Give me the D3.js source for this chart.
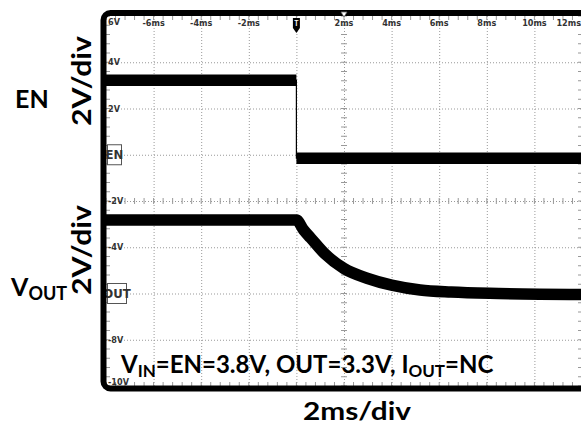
<!DOCTYPE html>
<html>
<head>
<meta charset="utf-8">
<script src="https://cdn.jsdelivr.net/npm/d3@7"></script>
<style>
body { margin: 0; background: #fff; }
text { font-family: Lato, "Noto Sans", sans-serif; fill: #000; }
.big { font-weight: bold; }
.tl { font-family: "Liberation Sans Narrow", "DejaVu Sans Condensed", sans-serif; font-size: 9px; font-weight: bold; fill: #333; }
</style>
</head>
<body>
<script>
// scope grid: time in ms, volts as printed on the screen
var xTicks = [-6, -4, -2, 2, 4, 6, 8, 10, 12];
var xTickLabels = ["-6ms", "-4ms", "-2ms", "2ms", "4ms", "6ms", "8ms", "10ms", "12ms"];
var yTicks = [6, 4, 2, -2, -4, -8, -10];
var yTickLabels = ["6V", "4V", "2V", "-2V", "-4V", "-8V", "-10V"];
var gridTimes = [-6, -4, -2, 0, 2, 4, 6, 8, 10];
var gridVolts = [4, 2, 0, -2, -4, -6, -8];

// channel traces
var enTime = [-8, 0, 0, 12];
var enVolt = [3.22, 3.22, -0.15, -0.15];
var outTime = [-8, 0, 0.3, 0.6, 1.2, 2.0, 3.0, 4.0, 5.2, 6.5, 8.5, 12];
var outVolt = [-2.82, -2.82, -3.25, -3.6, -4.29, -4.92, -5.35, -5.64, -5.85, -5.94, -6.0, -6.04];

var W = 581, H = 426;

var x = d3.scaleLinear().domain([-8, 12]).range([106, 582]);
var y = d3.scaleLinear().domain([6, -10]).range([16, 386]);

var svg = d3.select("body").append("svg")
    .attr("width", W)
    .attr("height", H);

svg.append("rect").attr("width", W).attr("height", H).attr("fill", "#fff");

// dotted grid
var gx = svg.append("g")
    .attr("transform", "translate(0," + y(6) + ")")
    .call(d3.axisBottom(x).tickValues(gridTimes).tickSize(y(-10) - y(6)).tickFormat(""));
var gy = svg.append("g")
    .attr("transform", "translate(" + x(-8) + ",0)")
    .call(d3.axisRight(y).tickValues(gridVolts).tickSize(x(12) - x(-8)).tickFormat(""));
[gx, gy].forEach(function(g) {
  g.select(".domain").remove();
  g.selectAll("line").attr("stroke", "#999").attr("stroke-dasharray", "1,2");
});

// minor ticks (5 per division)
var minorT = d3.range(-8, 12.001, 0.4);
var minorV = d3.range(-10, 6.001, 0.4);
var tk = svg.append("g").attr("stroke", "#999").attr("stroke-width", 1);
tk.selectAll(".mt").data(minorT).enter().append("line")
    .attr("x1", function(d) { return x(d); }).attr("x2", function(d) { return x(d); })
    .attr("y1", y(6)).attr("y2", y(6) + 4);
tk.selectAll(".mb").data(minorT).enter().append("line")
    .attr("x1", function(d) { return x(d); }).attr("x2", function(d) { return x(d); })
    .attr("y1", y(-10)).attr("y2", y(-10) - 4);
tk.selectAll(".mc").data(minorT).enter().append("line")
    .attr("x1", function(d) { return x(d); }).attr("x2", function(d) { return x(d); })
    .attr("y1", y(-2) - 3).attr("y2", y(-2) + 3);
tk.selectAll(".ml").data(minorV).enter().append("line")
    .attr("y1", function(d) { return y(d); }).attr("y2", function(d) { return y(d); })
    .attr("x1", x(-8)).attr("x2", x(-8) + 4);
tk.selectAll(".mr").data(minorV).enter().append("line")
    .attr("y1", function(d) { return y(d); }).attr("y2", function(d) { return y(d); })
    .attr("x1", x(12) - 4).attr("x2", x(12));
tk.selectAll(".mv").data(minorV).enter().append("line")
    .attr("y1", function(d) { return y(d); }).attr("y2", function(d) { return y(d); })
    .attr("x1", x(2) - 3).attr("x2", x(2) + 3);

// tick labels
svg.selectAll(".xl").data(xTicks).enter().append("text")
    .attr("class", "tl")
    .attr("x", function(d) { return d === 12 ? x(d) - 1 : x(d); })
    .attr("y", y(6) + 10)
    .attr("text-anchor", function(d) { return d === 12 ? "end" : "middle"; })
    .text(function(d, i) { return xTickLabels[i]; });
svg.selectAll(".yl").data(yTicks).enter().append("text")
    .attr("class", "tl")
    .attr("x", x(-8) + 2)
    .attr("y", function(d) { return d === 6 ? y(d) + 9 : (d === -10 ? y(d) - 1 : y(d) + 3); })
    .text(function(d, i) { return yTickLabels[i]; });

// channel reference markers
function marker(v, label, w) {
  var g = svg.append("g").attr("transform", "translate(" + (x(-8) + 1.5) + "," + (y(v) - 10) + ")");
  g.append("rect").attr("width", w).attr("height", 20).attr("fill", "#fff").attr("stroke", "#555").attr("stroke-width", 1);
  g.append("text").attr("class", "tl").attr("x", w / 2).attr("y", 14.5).attr("text-anchor", "middle")
      .style("font-size", "13px").text(label);
}
marker(0, "EN", 14);
marker(-6, "OUT", 19);

// traces
var line = d3.line()
    .x(function(d) { return x(d[0]); })
    .y(function(d) { return y(d[1]); });
var enPts = enTime.map(function(t, i) { return [t, enVolt[i]]; });
var outPts = outTime.map(function(t, i) { return [t, outVolt[i]]; });

svg.append("path").datum(enPts).attr("d", line)
    .attr("fill", "none").attr("stroke", "#000").attr("stroke-width", 1.2);
for (var i = 0; i < enPts.length - 1; i++) {
  if (enPts[i][0] !== enPts[i + 1][0]) {
    svg.append("path").datum([enPts[i], enPts[i + 1]]).attr("d", line)
        .attr("fill", "none").attr("stroke", "#000").attr("stroke-width", 11.5);
  }
}
svg.append("path").datum(outPts).attr("d", line.curve(d3.curveMonotoneX))
    .attr("fill", "none").attr("stroke", "#000").attr("stroke-width", 11.5);

// frame
svg.append("rect")
    .attr("x", 103.5).attr("y", 13).attr("width", 520).attr("height", 375.5)
    .attr("rx", 7)
    .attr("fill", "none").attr("stroke", "#000").attr("stroke-width", 6);

// trigger marker
svg.append("path")
    .attr("d", "M" + (x(0) - 3.5) + ",18 h7 v10 l-3.5,5 l-3.5,-5 z")
    .attr("fill", "#000");
svg.append("text").attr("x", x(0)).attr("y", 26).attr("text-anchor", "middle")
    .style("font-size", "7px").style("fill", "#fff").style("font-weight", "bold").text("T");
svg.append("path")
    .attr("d", "M" + (x(2) - 3) + ",12 h6 l-3,5 z")
    .attr("fill", "#fff").attr("stroke", "#666").attr("stroke-width", 0.8);

// labels outside the screen
svg.append("text").attr("class", "big").attr("x", 15).attr("y", 108).style("font-size", "25px").text("EN");
var vo = svg.append("text").attr("class", "big").attr("x", 11).attr("y", 296).style("font-size", "25px");
vo.append("tspan").text("V");
vo.append("tspan").attr("dy", 4).style("font-size", "18px").text("OUT");

svg.append("text").attr("class", "big").attr("transform", "translate(91,81) rotate(-90)")
    .attr("text-anchor", "middle").attr("textLength", 90).attr("lengthAdjust", "spacingAndGlyphs")
    .style("font-size", "27px").text("2V/div");
svg.append("text").attr("class", "big").attr("transform", "translate(91,250) rotate(-90)")
    .attr("text-anchor", "middle").attr("textLength", 90).attr("lengthAdjust", "spacingAndGlyphs")
    .style("font-size", "27px").text("2V/div");

svg.append("text").attr("class", "big").attr("x", 357).attr("y", 420).attr("text-anchor", "middle")
    .attr("textLength", 108).attr("lengthAdjust", "spacingAndGlyphs")
    .style("font-size", "24px").text("2ms/div");

// test conditions
var note = svg.append("text").attr("class", "big").attr("x", 121).attr("y", 373)
    .style("font-size", "24px");
note.append("tspan").text("V");
note.append("tspan").attr("dy", 4).style("font-size", "17px").text("IN");
note.append("tspan").attr("dy", -4).text("=EN=3.8V, OUT=3.3V, I");
note.append("tspan").attr("dy", 4).style("font-size", "17px").text("OUT");
note.append("tspan").attr("dy", -4).text("=NC");
</script>
</body>
</html>
